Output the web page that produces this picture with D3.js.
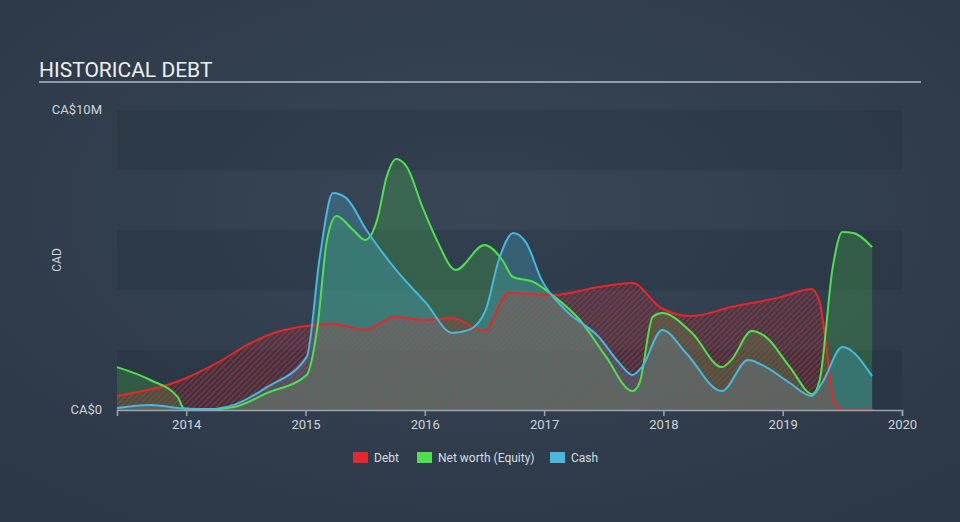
<!DOCTYPE html>
<html><head><meta charset="utf-8">
<script src="https://cdn.jsdelivr.net/npm/d3@7"></script>
<style>
html,body{margin:0;padding:0;background:#333f4f;}
svg{display:block;font-family:Roboto,"Open Sans",sans-serif;}
</style></head>
<body><svg id="c" width="960" height="522"></svg>
<script>
// ---- data (values in CA$ millions, dates in decimal years) ----
const debtDates = [2013.42,2013.96,2014.26,2014.54,2014.76,2014.95,2015.23,2015.50,2015.75,2016.00,2016.23,2016.50,2016.70,2017.07,2017.46,2017.74,2017.98,2018.23,2018.57,2018.99,2019.24,2019.31,2019.36,2019.43,2019.50,2019.76];
const debtValues = [0.47,1.0,1.57,2.23,2.6,2.77,2.87,2.67,3.1,3.0,3.07,2.63,3.9,3.83,4.1,4.23,3.4,3.13,3.43,3.77,4.03,3.6,2.3,0.3,0,0];

const equityDates = [2013.42,2013.70,2013.93,2013.98,2014.15,2014.40,2014.68,2015.01,2015.10,2015.18,2015.26,2015.40,2015.50,2015.60,2015.68,2015.76,2015.85,2015.98,2016.10,2016.26,2016.50,2016.65,2016.74,2016.91,2017.07,2017.30,2017.52,2017.74,2017.80,2017.91,2017.99,2018.24,2018.49,2018.57,2018.74,2018.86,2019.06,2019.25,2019.31,2019.42,2019.50,2019.59,2019.75];
const equityValues = [1.43,1.0,0.43,0.05,0,0.1,0.57,1.17,2.77,5.67,6.47,6.0,5.67,6.33,7.77,8.37,8.1,6.77,5.67,4.67,5.5,5.0,4.43,4.27,3.83,3.0,1.77,0.63,0.9,3.1,3.23,2.57,1.43,1.67,2.63,2.43,1.43,0.53,1.0,4.77,5.93,5.9,5.43];

const cashDates = [2013.42,2013.70,2013.98,2014.20,2014.40,2014.68,2015.01,2015.12,2015.23,2015.34,2015.51,2015.78,2016.01,2016.23,2016.37,2016.51,2016.62,2016.74,2016.85,2016.98,2017.18,2017.46,2017.63,2017.74,2017.82,2017.99,2018.19,2018.49,2018.71,2018.86,2019.06,2019.24,2019.33,2019.50,2019.75];
const cashValues = [0.07,0.17,0.05,0.03,0.17,0.77,1.77,5.1,7.23,7.07,6.0,4.57,3.57,2.57,2.67,3.33,5.0,5.9,5.57,4.33,3.33,2.43,1.57,1.17,1.43,2.67,1.9,0.63,1.67,1.43,0.9,0.47,0.9,2.1,1.13];

const yearTicks = [2014,2015,2016,2017,2018,2019,2020];
const yTickValues = [0,10];
const yTickLabels = ["CA$0","CA$10M"];
const seriesNames = ["Debt","Net worth (Equity)","Cash"];
const seriesColors = ["#e8262b","#4fe04f","#48b8dc"];

// ---- drawing ----
const svg = d3.select("#c");
const W=960,H=522;
const defs = svg.append("defs");
const bg = defs.append("radialGradient").attr("id","bg").attr("cx","50%").attr("cy","40%").attr("r","70%");
bg.append("stop").attr("offset","0%").attr("stop-color","#384656");
bg.append("stop").attr("offset","100%").attr("stop-color","#2c3846");
svg.append("rect").attr("width",W).attr("height",H).attr("fill","url(#bg)");

const pat = defs.append("pattern").attr("id","hatch").attr("patternUnits","userSpaceOnUse")
  .attr("width",4).attr("height",4).attr("patternTransform","rotate(45)");
pat.append("rect").attr("width",1.6).attr("height",4).attr("fill","#e8262b").attr("fill-opacity",0.55);

const x = d3.scaleLinear().domain([2013.42,2020]).range([117,902]);
const y = d3.scaleLinear().domain([0,10]).range([410,110]);

// bands
const bandEdges = d3.range(0,10,2);
svg.append("g").selectAll("rect").data(bandEdges).join("rect")
  .attr("x",117).attr("width",902-117)
  .attr("y",d=>y(d+2)).attr("height",d=>y(d)-y(d+2))
  .attr("fill",(d,i)=> i%2===0 ? "rgba(20,30,45,0.16)" : "rgba(255,255,255,0.005)");

// title
svg.append("text").attr("x",39).attr("y",77).text("HISTORICAL DEBT")
  .attr("fill","#eef0f2").attr("font-size",21);
svg.append("line").attr("x1",39).attr("x2",921).attr("y1",82).attr("y2",82)
  .attr("stroke","#b4bac2").attr("stroke-width",1.5);

const mk = (dates,vals)=>dates.map((d,i)=>({t:d,v:vals[i]}));
const debt = mk(debtDates,debtValues), eq = mk(equityDates,equityValues), cash = mk(cashDates,cashValues);
const curve = d3.curveMonotoneX;
const area = d3.area().x(d=>x(d.t)).y0(y(0)).y1(d=>y(d.v)).curve(curve);
const line = d3.line().x(d=>x(d.t)).y(d=>y(d.v)).curve(curve);

svg.append("path").attr("d",area(eq)).attr("fill","#4fe04f").attr("fill-opacity",0.22);
svg.append("path").attr("d",area(cash)).attr("fill","#48b8dc").attr("fill-opacity",0.28);
svg.append("path").attr("d",area(debt)).attr("fill","url(#hatch)");

svg.append("path").attr("d",line(debt)).attr("fill","none").attr("stroke","#e8262b").attr("stroke-width",2);
svg.append("path").attr("d",line(eq)).attr("fill","none").attr("stroke","#4fe04f").attr("stroke-width",2);
svg.append("path").attr("d",line(cash)).attr("fill","none").attr("stroke","#48b8dc").attr("stroke-width",2);

// x axis
const xa = svg.append("g").attr("transform",`translate(0,${y(0)})`)
  .call(d3.axisBottom(x).tickValues(yearTicks).tickFormat(d3.format("d")).tickSizeOuter(0).tickSize(6).tickPadding(4));
xa.select(".domain").attr("stroke","#9aa4ae").attr("stroke-width",1.5);
xa.selectAll(".tick line").attr("stroke","#9aa4ae").attr("stroke-width",1.5);
xa.selectAll("text").attr("fill","#d0d4d9").attr("font-size",13).attr("font-family","Roboto,sans-serif");

// y labels
svg.append("g").selectAll("text").data(yTickValues).join("text")
  .attr("x",102).attr("y",d=>y(d)+4).attr("text-anchor","end")
  .attr("fill","#d0d4d9").attr("font-size",13).text((d,i)=>yTickLabels[i]);
svg.append("text").attr("transform","translate(61,260) rotate(-90)").attr("text-anchor","middle")
  .attr("fill","#d0d4d9").attr("font-size",12).text("CAD");

// legend
const legX=[353,417,550];
const lg = svg.append("g").selectAll("g").data(seriesNames).join("g")
  .attr("transform",(d,i)=>`translate(${legX[i]},452)`);
lg.append("rect").attr("width",15).attr("height",11).attr("fill",(d,i)=>seriesColors[i]);
lg.append("text").attr("x",21).attr("y",10).attr("fill","#d8dce0").attr("font-size",12).text(d=>d);
</script></body></html>
